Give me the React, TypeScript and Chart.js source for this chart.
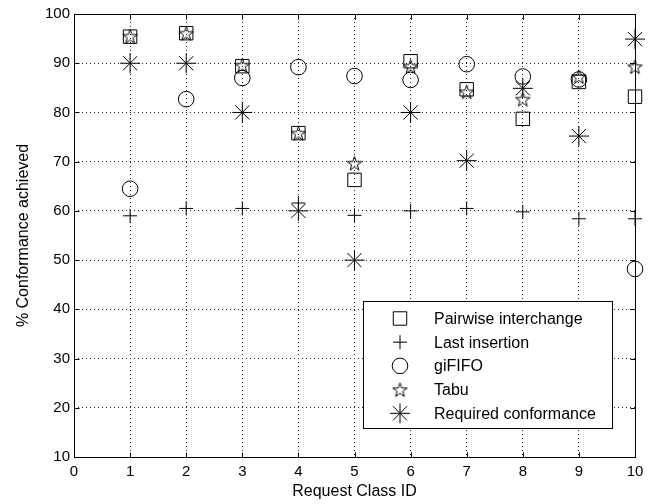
import React, { useEffect, useRef } from 'react';
import { Chart, registerables } from 'chart.js';
import { drawPoint } from 'chart.js/helpers';

Chart.register(...registerables);

const classIds = [1, 2, 3, 4, 5, 6, 7, 8, 9, 10];
const pairwise = [95.4, 96.1, 89.4, 75.8, 66.3, 90.4, 84.7, 78.7, 86.2, 83.2];
const lastInsertion = [59.0, 60.5, 60.5, 61.6, 59.1, 60.0, 60.5, 59.8, 58.4, 58.4];
const gififo = [64.5, 82.7, 87.0, 89.2, 87.4, 86.6, 89.8, 87.3, 86.7, 48.2];
const tabu = [95.5, 96.1, 89.6, 75.8, 69.7, 89.4, 84.2, 82.7, 87.3, 89.3];
const required = [90, 90, 80, 60, 50, 80, 70.2, 84.9, 75.2, 94.9];
const seriesNames = ['Pairwise interchange', 'Last insertion', 'giFIFO', 'Tabu', 'Required conformance'];
const xTickValues = [0, 1, 2, 3, 4, 5, 6, 7, 8, 9, 10];
const yTickValues = [10, 20, 30, 40, 50, 60, 70, 80, 90, 100];

const FONT = '"Liberation Sans", Arial, Helvetica, sans-serif';

function makeStar(): HTMLCanvasElement {
  const size = 19;
  const c = document.createElement('canvas');
  c.width = size;
  c.height = size;
  const ctx = c.getContext('2d')!;
  ctx.strokeStyle = '#000';
  ctx.lineWidth = 1;
  const outer = 7.5;
  const inner = outer * 0.4;
  const cx = size / 2;
  const cy = size / 2 + 0.8;
  ctx.beginPath();
  for (let i = 0; i < 10; i++) {
    const r = i % 2 === 0 ? outer : inner;
    const a = -Math.PI / 2 + (i * Math.PI) / 5;
    const x = cx + r * Math.cos(a);
    const y = cy + r * Math.sin(a);
    if (i === 0) ctx.moveTo(x, y);
    else ctx.lineTo(x, y);
  }
  ctx.closePath();
  ctx.stroke();
  return c;
}

export default function App() {
  const ref = useRef<HTMLCanvasElement | null>(null);

  useEffect(() => {
    if (!ref.current) return;
    const star = makeStar();
    const styles: any[] = [
      { pointStyle: 'rect', radius: 9.5 },
      { pointStyle: 'cross', radius: 7 },
      { pointStyle: 'circle', radius: 7.8 },
      { pointStyle: star, radius: 7 },
      { pointStyle: 'star', radius: 10 },
    ];
    const values = [pairwise, lastInsertion, gififo, tabu, required];

    const frame = {
      id: 'frameAndLegend',
      afterDatasetsDraw(chart: any) {
        const { ctx, chartArea } = chart;
        const xs = chart.scales.x;
        const ys = chart.scales.y;
        const L = Math.round(chartArea.left) + 0.5;
        const R = Math.round(chartArea.right) + 0.5;
        const T = Math.round(chartArea.top) + 0.5;
        const B = Math.round(chartArea.bottom) + 0.5;
        ctx.save();
        ctx.strokeStyle = '#000';
        ctx.lineWidth = 1;
        ctx.setLineDash([]);
        ctx.strokeRect(L, T, R - L, B - T);
        const tl = 5;
        ctx.beginPath();
        xTickValues.forEach((v) => {
          const px = Math.round(xs.getPixelForValue(v)) + 0.5;
          ctx.moveTo(px, B);
          ctx.lineTo(px, B - tl);
          ctx.moveTo(px, T);
          ctx.lineTo(px, T + tl);
        });
        yTickValues.forEach((v) => {
          const py = Math.round(ys.getPixelForValue(v)) + 0.5;
          ctx.moveTo(L, py);
          ctx.lineTo(L + tl, py);
          ctx.moveTo(R, py);
          ctx.lineTo(R - tl, py);
        });
        ctx.stroke();

        // legend
        const bx = 363.5, by = 301.5, bw = 249, bh = 127;
        ctx.fillStyle = '#fff';
        ctx.fillRect(bx, by, bw, bh);
        ctx.strokeRect(bx, by, bw, bh);
        ctx.font = `16px ${FONT}`;
        ctx.textBaseline = 'middle';
        ctx.textAlign = 'left';
        seriesNames.forEach((name, i) => {
          const y = 318.5 + i * 23.7;
          ctx.save();
          ctx.fillStyle = 'rgba(0,0,0,0)';
          ctx.strokeStyle = '#000';
          ctx.lineWidth = 1;
          drawPoint(ctx, { pointStyle: styles[i].pointStyle, radius: styles[i].radius, rotation: 0, borderWidth: 1 } as any, 400, y);
          ctx.restore();
          ctx.fillStyle = '#000';
          ctx.fillText(name, 434, y + 1);
        });
        ctx.restore();
      },
    };

    const chart = new Chart(ref.current, {
      type: 'scatter',
      data: {
        datasets: seriesNames.map((name, i) => ({
          label: name,
          data: classIds.map((x, j) => ({ x, y: values[i][j] })),
          showLine: false,
          pointStyle: styles[i].pointStyle,
          pointRadius: styles[i].radius,
          pointHoverRadius: styles[i].radius,
          borderColor: '#000',
          backgroundColor: 'rgba(0,0,0,0)',
          pointBorderWidth: 1,
          borderWidth: 1,
          clip: false as any,
        })),
      },
      options: {
        responsive: false,
        animation: false,
        layout: { padding: { left: 0, right: 21, top: 14, bottom: 0 } },
        plugins: { legend: { display: false }, tooltip: { enabled: false } },
        scales: {
          x: {
            type: 'linear',
            min: 0,
            max: 10,
            position: 'bottom',
            afterBuildTicks: (s: any) => {
              s.ticks = xTickValues.map((v) => ({ value: v }));
            },
            ticks: { color: '#000', font: { family: FONT, size: 15 }, padding: 6, maxRotation: 0, autoSkip: false },
            grid: { color: '#222', lineWidth: 1, drawTicks: false },
            border: { display: false, dash: [1, 3] },
            title: {
              display: true,
              text: 'Request Class ID',
              color: '#000',
              font: { family: FONT, size: 16 },
              padding: { top: 0, bottom: 3 },
            },
            afterFit: (s: any) => {
              s.height = 47;
            },
          },
          y: {
            type: 'linear',
            min: 10,
            max: 100,
            afterBuildTicks: (s: any) => {
              s.ticks = yTickValues.map((v) => ({ value: v }));
            },
            ticks: { color: '#000', font: { family: FONT, size: 15 }, padding: 4, autoSkip: false },
            grid: { color: '#222', lineWidth: 1, drawTicks: false },
            border: { display: false, dash: [1, 3] },
            title: {
              display: true,
              text: '% Conformance achieved',
              color: '#000',
              font: { family: FONT, size: 16 },
              padding: { top: 14, bottom: 0 },
            },
            afterFit: (s: any) => {
              s.width = 74;
            },
          },
        },
      },
      plugins: [frame],
    });
    return () => chart.destroy();
  }, []);

  return (
    <div style={{ position: 'absolute', left: 0, top: 0, width: 656, height: 504, background: '#fff' }}>
      <canvas ref={ref} width={656} height={504} />
    </div>
  );
}
